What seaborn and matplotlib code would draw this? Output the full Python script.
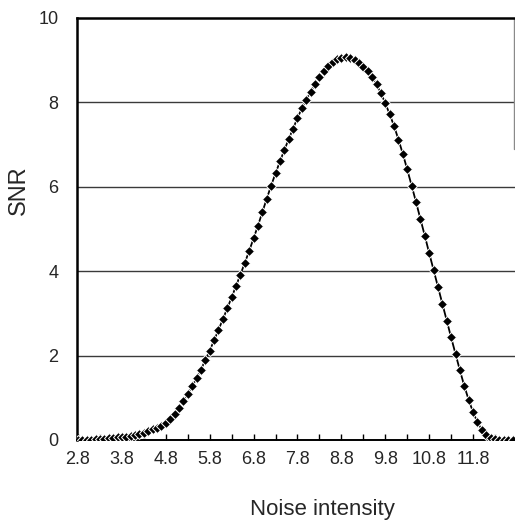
import numpy as np
import pandas as pd
import matplotlib
matplotlib.use("Agg")
import matplotlib.pyplot as plt
import seaborn as sns

# Noise intensity sampled every 0.1 from 2.8 to 12.7
noise = np.round(np.arange(2.8, 12.75, 0.1), 1)

# SNR measured at each noise intensity
snr = [
    0.00, 0.00, 0.01, 0.01, 0.02, 0.02, 0.03, 0.04, 0.05, 0.06,   # 2.8 - 3.7
    0.07, 0.08, 0.10, 0.12, 0.14, 0.17, 0.21, 0.25, 0.29, 0.34,   # 3.8 - 4.7
    0.40, 0.50, 0.62, 0.76, 0.92, 1.09, 1.27, 1.46, 1.67, 1.89,   # 4.8 - 5.7
    2.12, 2.36, 2.61, 2.86, 3.12, 3.38, 3.65, 3.92, 4.20, 4.48,   # 5.8 - 6.7
    4.78, 5.08, 5.40, 5.72, 6.03, 6.32, 6.60, 6.87, 7.13, 7.38,   # 6.8 - 7.7
    7.63, 7.86, 8.06, 8.25, 8.43, 8.60, 8.75, 8.87, 8.96, 9.02,   # 7.8 - 8.7
    9.06, 9.07, 9.05, 9.01, 8.94, 8.85, 8.74, 8.60, 8.43, 8.22,   # 8.8 - 9.7
    7.98, 7.72, 7.44, 7.12, 6.78, 6.41, 6.03, 5.64, 5.24, 4.84,   # 9.8 - 10.7
    4.43, 4.03, 3.63, 3.23, 2.83, 2.43, 2.04, 1.65, 1.28, 0.95,   # 10.8 - 11.7
    0.66, 0.42, 0.24, 0.12, 0.05, 0.02, 0.01, 0.00, 0.00, 0.00,   # 11.8 - 12.7
]

tick_labels = ["2.8", "3.8", "4.8", "5.8", "6.8", "7.8", "8.8", "9.8", "10.8", "11.8"]
y_ticks = [0, 2, 4, 6, 8, 10]

df = pd.DataFrame({"Noise intensity": noise, "SNR": snr})

sns.set_style("white")
plt.rcParams["font.family"] = ["Liberation Sans", "DejaVu Sans"]

W, H = 515, 524
fig = plt.figure(figsize=(W / 100, H / 100), dpi=100)
ax = fig.add_axes([76.5 / W, 84 / H, (W - 76.5) / W, 422 / H])

# horizontal grid lines
for yv in y_ticks[1:-1]:
    ax.axhline(yv, color="#3a3a3a", lw=1.0, zorder=1)

sns.lineplot(data=df, x="Noise intensity", y="SNR", ax=ax, color="black",
             marker="D", markersize=5.2, markeredgewidth=0.7, linewidth=1.3,
             zorder=3)

ax.set_xlim(2.766, 12.755)
ax.set_ylim(0, 10)

major = [float(t) for t in tick_labels]
minor = [m + 0.5 for m in major]
ax.set_xticks(major)
ax.set_xticklabels(tick_labels)
ax.set_xticks(minor, minor=True)
ax.set_yticks(y_ticks)
ax.set_yticklabels([str(v) for v in y_ticks])

ax.tick_params(axis="x", which="both", direction="in", length=4, width=1,
               color="black", labelsize=13, pad=8, bottom=True)
ax.tick_params(axis="y", length=0, labelsize=13, pad=13)

for side in ("left", "top"):
    ax.spines[side].set_color("black")
    ax.spines[side].set_linewidth(1.8)
ax.spines["bottom"].set_color("black")
ax.spines["bottom"].set_linewidth(1.4)
ax.spines["right"].set_visible(False)

# partial frame edge at the right
ax.axvline(12.73, ymin=0.69, ymax=1.0, color="#8a8a8a", lw=1.0)

ax.set_xlabel("Noise intensity", fontsize=16)
ax.set_ylabel("SNR", fontsize=17)
ax.xaxis.set_label_coords((322 - 76.5) / (W - 76.5), -(509 - 440) / 422)
ax.yaxis.set_label_coords(-(76.5 - 19) / (W - 76.5), (440 - 190) / 422)
ax.xaxis.label.set_va("center")
ax.yaxis.label.set_va("center")

fig.savefig("out.png", dpi=100)
